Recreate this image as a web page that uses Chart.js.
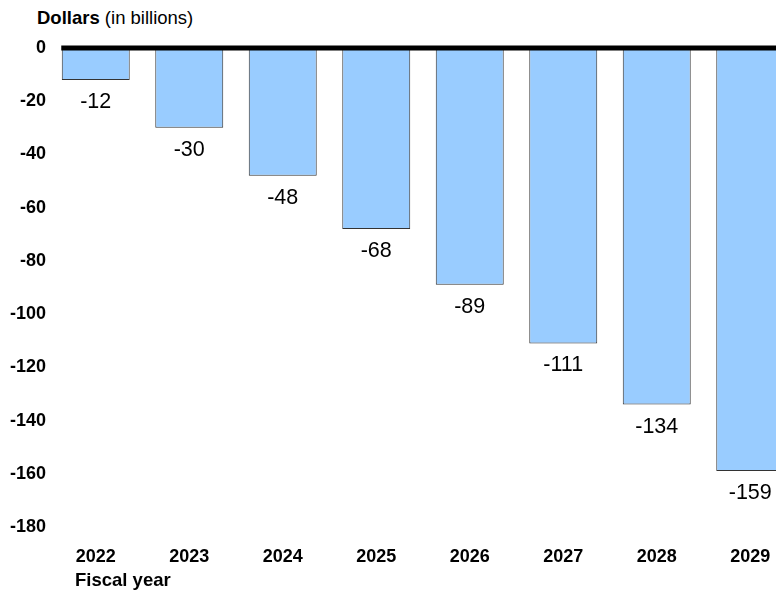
<!DOCTYPE html>
<html>
<head>
<meta charset="utf-8">
<script src="https://cdn.jsdelivr.net/npm/chart.js@4"></script>
<style>
  html, body { margin: 0; padding: 0; background: #fff; overflow: hidden; width: 776px; height: 594px; }
  body { position: relative; font-family: "Liberation Sans", Arial, sans-serif; color: #000; }
  #wrap { position: absolute; left: 0; top: 0; width: 800px; height: 594px; }
  .label { position: absolute; font-size: 18.5px; white-space: nowrap; }
  #ytitle { left: 37px; top: 7px; }
  #xtitle { left: 75px; top: 569px; font-weight: bold; }
</style>
</head>
<body>
<div class="label" id="ytitle"><b>Dollars</b> (in billions)</div>
<div id="wrap"><canvas id="chart"></canvas></div>
<div class="label" id="xtitle">Fiscal year</div>
<script>
const years = ['2022', '2023', '2024', '2025', '2026', '2027', '2028', '2029'];
const savings = [-12, -30, -48, -68, -89, -111, -134, -159];
const yTicks = [0, -20, -40, -60, -80, -100, -120, -140, -160, -180];

// thick black line along zero, starting at the first bar
const zeroLine = {
  id: 'zeroLine',
  afterDatasetsDraw(chart) {
    const ctx = chart.ctx;
    const y = chart.scales.y.getPixelForValue(0);
    const first = chart.getDatasetMeta(0).data[0];
    ctx.save();
    ctx.strokeStyle = '#000';
    ctx.lineWidth = 5;
    ctx.beginPath();
    ctx.moveTo(first.x - first.width / 2 - 0.5, y);
    ctx.lineTo(chart.width, y);
    ctx.stroke();
    ctx.restore();
  }
};

// value labels under each bar
const valueLabels = {
  id: 'valueLabels',
  afterDatasetsDraw(chart) {
    const ctx = chart.ctx;
    ctx.save();
    ctx.font = '21.5px "Liberation Sans", Arial, sans-serif';
    ctx.fillStyle = '#000';
    ctx.textAlign = 'center';
    ctx.textBaseline = 'middle';
    chart.getDatasetMeta(0).data.forEach((bar, i) => {
      ctx.fillText(String(savings[i]), bar.x, bar.y + 22);
    });
    ctx.restore();
  }
};

new Chart(document.getElementById('chart'), {
  type: 'bar',
  data: {
    labels: years,
    datasets: [{
      data: savings,
      backgroundColor: '#99ccff',
      borderColor: '#333333',
      borderWidth: 1,
      categoryPercentage: 1,
      barPercentage: 0.727
    }]
  },
  options: {
    responsive: true,
    maintainAspectRatio: false,
    animation: false,
    layout: { padding: { top: 48, right: 3, bottom: 0, left: 0 } },
    plugins: {
      legend: { display: false },
      tooltip: { enabled: false }
    },
    scales: {
      x: {
        grid: { display: false, drawTicks: false },
        border: { display: false },
        ticks: {
          color: '#000',
          padding: 19,
          font: { family: '"Liberation Sans", Arial, sans-serif', size: 18, weight: 'bold' }
        },
        afterFit(scale) { scale.height = 67; }
      },
      y: {
        min: -180,
        max: 0,
        grid: { display: false, drawTicks: false },
        border: { display: false },
        afterBuildTicks(scale) { scale.ticks = yTicks.map(v => ({ value: v })); },
        ticks: {
          color: '#000',
          padding: 3,
          font: { family: '"Liberation Sans", Arial, sans-serif', size: 18, weight: 'bold' }
        },
        afterFit(scale) { scale.width = 49; }
      }
    }
  },
  plugins: [zeroLine, valueLabels]
});
</script>
</body>
</html>
